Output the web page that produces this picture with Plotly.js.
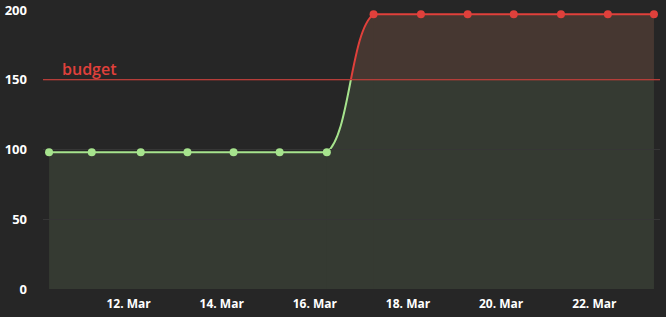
<!DOCTYPE html>
<html>
<head>
<meta charset="utf-8">
<script src="https://cdn.plot.ly/plotly-3.0.1.min.js"></script>
<style>html,body{margin:0;padding:0;background:#262626;}#chart{width:666px;height:317px;}</style>
</head>
<body>
<div id="chart"></div>
<script>
// Data
const dates = [
  '2025-03-10 07:00', '2025-03-11 05:00', '2025-03-12 06:15', '2025-03-13 06:20',
  '2025-03-14 06:05', '2025-03-15 05:50', '2025-03-16 06:10', '2025-03-17 06:15',
  '2025-03-18 06:40', '2025-03-19 06:45', '2025-03-20 06:30', '2025-03-21 06:50',
  '2025-03-22 07:00', '2025-03-23 06:45'
];
const spend = [98, 98, 98, 98, 98, 98, 98, 197, 197, 197, 197, 197, 197, 197];
const budget = 150;
const budgetLabel = 'budget';
const yMax = 200;
const yTicks = [0, 50, 100, 150, 200];

const GREEN = '#a6e38d', RED = '#e0403b';
const GREEN_FILL = '#353a32', RED_FILL = '#463731';
const BG = '#262626', GRID = '#363636';
const FONT = '"Open Sans", sans-serif';

// geometry of the plot area
const M = { l: 43, r: 6, t: 10, b: 28 };
const W = 666 - M.l - M.r;
const ms = t => Date.UTC(+t.slice(0,4), +t.slice(5,7) - 1, +t.slice(8,10), +t.slice(11,13), +t.slice(14,16));
const DAY = 86400000;
const xr0 = ms(dates[0]) - 0.13 * DAY, xr1 = ms(dates[dates.length - 1]) + 0.13 * DAY;
const pxMs = (xr1 - xr0) / W;
const frac = v => (v - xr0) / (xr1 - xr0);

// index of last point under budget (start of the rise)
let k = 0;
for (let i = 0; i < spend.length; i++) if (spend[i] <= budget) k = i;
const tA = ms(dates[k]), tB = ms(dates[k + 1]);
const tr = [Math.max(0, k - 1), Math.min(spend.length, k + 3)];
const split = budget / yMax;

const sl = (a, s, e) => a.slice(s, e);
const traces = [];
// rise between the two levels (spline), clipped to its own x window
[['y', GREEN, GREEN_FILL], ['y2', RED, RED_FILL]].forEach(([ya, c, f]) => traces.push({
  x: sl(dates, tr[0], tr[1]), y: sl(spend, tr[0], tr[1]), xaxis: 'x', yaxis: ya,
  type: 'scatter', mode: 'lines', line: { shape: 'spline', smoothing: 1, color: c, width: 2 },
  fill: 'tozeroy', fillcolor: f, hoverinfo: 'skip'
}));
// flat parts
traces.push({ x: sl(dates, 0, k + 1), y: sl(spend, 0, k + 1), xaxis: 'x2', yaxis: 'y',
  type: 'scatter', mode: 'lines', line: { color: GREEN, width: 2 }, fill: 'tozeroy', fillcolor: GREEN_FILL, hoverinfo: 'skip' });
traces.push({ x: sl(dates, k + 1), y: sl(spend, k + 1), xaxis: 'x2', yaxis: 'y',
  type: 'scatter', mode: 'lines', line: { color: GREEN, width: 2 }, fill: 'tozeroy', fillcolor: GREEN_FILL, hoverinfo: 'skip' });
traces.push({ x: sl(dates, k + 1), y: sl(spend, k + 1), xaxis: 'x2', yaxis: 'y2',
  type: 'scatter', mode: 'lines', line: { color: RED, width: 2 }, fill: 'tozeroy', fillcolor: RED_FILL, hoverinfo: 'skip' });
// markers
traces.push({ x: sl(dates, 0, k + 1), y: sl(spend, 0, k + 1), xaxis: 'x2', yaxis: 'y3',
  type: 'scatter', mode: 'markers', marker: { color: GREEN, size: 8 }, cliponaxis: false, hoverinfo: 'skip' });
traces.push({ x: sl(dates, k + 1), y: sl(spend, k + 1), xaxis: 'x2', yaxis: 'y3',
  type: 'scatter', mode: 'markers', marker: { color: RED, size: 8 }, cliponaxis: false, hoverinfo: 'skip' });

const tickfont = { family: FONT, size: 12, color: '#ffffff', weight: 700 };
const hidden = { visible: false, showgrid: false, zeroline: false, fixedrange: true };

const layout = {
  width: 666, height: 317, margin: M,
  paper_bgcolor: BG, plot_bgcolor: 'rgba(0,0,0,0)',
  showlegend: false,
  xaxis: Object.assign({}, hidden, { type: 'date', anchor: 'y',
    domain: [frac(tA) - 1 / W, frac(tB) + 1 / W], range: [tA - pxMs, tB + pxMs] }),
  xaxis2: {
    type: 'date', range: [xr0, xr1], domain: [0, 1], anchor: 'y3',
    showgrid: false, zeroline: false, showline: false,
    tick0: '2025-03-12', dtick: 2 * DAY, tickformat: '%-d. %b',
    ticks: '', ticklabelstandoff: 6, tickfont: tickfont, ticklabeloverflow: 'allow'
  },
  yaxis: Object.assign({}, hidden, { domain: [0, split], range: [0, budget], anchor: 'x' }),
  yaxis2: Object.assign({}, hidden, { domain: [split, 1], range: [budget, yMax], anchor: 'x' }),
  yaxis3: {
    domain: [0, 1], range: [0, yMax], anchor: 'x2',
    tickvals: yTicks, showgrid: true, gridcolor: GRID, gridwidth: 1,
    zeroline: false, showline: false, ticks: '', ticklabelstandoff: 15,
    ticklabeloverflow: 'allow',
    tickfont: Object.assign({}, tickfont, { size: 13 })
  },
  shapes: [{
    type: 'line', xref: 'paper', x0: 0, x1: 1, yref: 'y3', y0: budget, y1: budget,
    line: { color: RED, width: 1 }, layer: 'above'
  }],
  annotations: [{
    text: budgetLabel, xref: 'paper', x: 0.028, xanchor: 'left',
    yref: 'y3', y: budget, yanchor: 'bottom', yshift: -2, showarrow: false,
    font: { family: FONT, size: 16, color: RED, weight: 600 }
  }]
};

Plotly.newPlot('chart', traces, layout, { displayModeBar: false, staticPlot: true });
</script>
</body>
</html>
